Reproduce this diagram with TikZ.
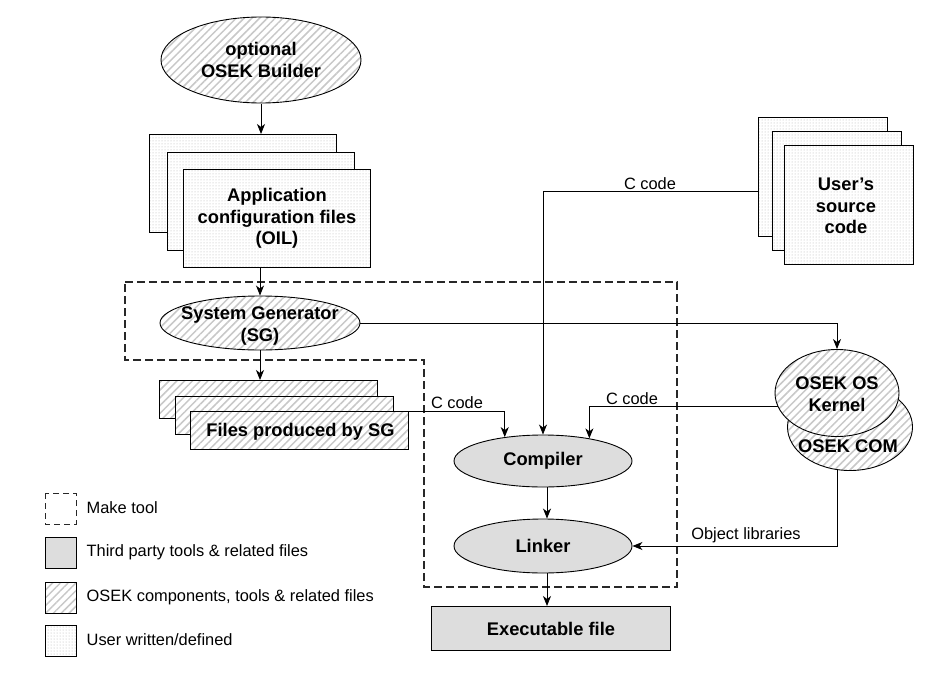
\documentclass[tikz,border=0pt]{standalone}
\usepackage{fontspec}
\setmainfont{Liberation Sans}
\usetikzlibrary{shapes.geometric,patterns,patterns.meta,arrows.meta,calc}
\definecolor{thirdgray}{RGB}{221,221,221}
\definecolor{hatchgray}{RGB}{200,200,200}
\definecolor{dotgray}{RGB}{180,180,180}
\definecolor{dashgray}{RGB}{40,40,40}
\tikzset{
  lw/.style={line width=0.9pt},
  arr/.style={lw,-{Stealth[length=10pt,width=8pt,inset=3pt]}},
  osek/.style={draw,lw,preaction={fill=white},pattern={Lines[angle=45,distance=5.5pt,line width=1.5pt]},pattern color=hatchgray},
  user/.style={draw,lw,preaction={fill=white},pattern=dots,pattern color=dotgray},
  third/.style={draw,lw,fill=thirdgray},
  ell/.style={ellipse,inner sep=0pt},
  box/.style={rectangle,inner sep=0pt,anchor=north west},
  btxt/.style={font=\fontsize{18.3}{21.7}\selectfont\bfseries,align=center,inner sep=0pt},
  ntxt/.style={font=\fontsize{16.4}{19}\selectfont,inner sep=1.5pt},
  maketool/.style={draw=dashgray,line width=1.1pt,dash pattern=on 8pt off 4pt}
}
\begin{document}
\begin{tikzpicture}[x=1pt,y=-1pt]
\useasboundingbox (0,0) rectangle (949,690);

% Make tool region
\draw[maketool] (125,282) -- (677,282) -- (677,587) -- (424,587) -- (424,360) -- (125,360) -- cycle;

% OSEK Builder
\node[ell,osek,minimum width=200pt,minimum height=86pt] (builder) at (261,60) {};
\node[btxt] (buildertxt) at (builder.center) {optional\\OSEK Builder};

% Application configuration files
\node[box,user,minimum width=187pt,minimum height=98pt] (app1) at (149,134) {};
\node[box,user,minimum width=187pt,minimum height=98pt] (app2) at (167,152) {};
\node[box,user,minimum width=187pt,minimum height=98pt] (app3) at (183,169) {};
\node[btxt] (apptxt) at (app3.center) {Application\\configuration files\\(OIL)};

% System Generator
\node[ell,osek,minimum width=200pt,minimum height=54pt] (sg) at (260,323) {};
\node[btxt] (sgtxt) at ($(sg.center)+(0,3)$) {System Generator\\(SG)};

% Files produced by SG
\node[box,osek,minimum width=218pt,minimum height=38pt] (files1) at (159,380) {};
\node[box,osek,minimum width=218pt,minimum height=38pt] (files2) at (175,396) {};
\node[box,osek,minimum width=218pt,minimum height=38pt] (files3) at (190,411) {};
\node[btxt] (filestxt) at ($(files3.center)+(1,1)$) {Files produced by SG};

% User's source code
\node[box,user,minimum width=129pt,minimum height=119pt] (user1) at (758,117) {};
\node[box,user,minimum width=129pt,minimum height=119pt] (user2) at (772,131) {};
\node[box,user,minimum width=129pt,minimum height=119pt] (user3) at (784,145) {};
\node[btxt] (usertxt) at ($(user3.center)+(-3,1)$) {User’s\\source\\code};

% OSEK COM and OS
\node[ell,osek,minimum width=125pt,minimum height=87pt] (com) at (850,427) {};
\node[ell,osek,minimum width=124pt,minimum height=87pt] (os) at (837,393) {};
\node[btxt] (ostxt) at ($(os.center)+(0,1)$) {OSEK OS\\Kernel};
\node[btxt,anchor=base] (comtxt) at (848,452) {OSEK COM};

% Compiler and Linker
\node[ell,third,minimum width=178pt,minimum height=52pt] (comp) at (543,461) {};
\node[btxt] (comptxt) at (comp.center) {Compiler};
\node[ell,third,minimum width=178pt,minimum height=54pt] (link) at (543,546) {};
\node[btxt] (linktxt) at (link.center) {Linker};

% Executable file
\node[box,third,minimum width=239pt,minimum height=44pt] (exe) at (431,606) {};
\node[btxt] (exetxt) at (exe.center) {Executable file};

% Connectors
\draw[arr] (builder.south) -- (builder.south |- app1.north);
\draw[arr] (sg.north |- app3.south) -- (sg.north);
\draw[arr] (sg.south) -- (sg.south |- files1.north);
\draw[arr] (files3.north east) -| (comp.148);
\node[ntxt,anchor=south] (cc1) at (457,410) {C code};
\draw[arr] ($(user1.north west)!0.62!(user1.south west)$) -| (comp.north);
\node[ntxt,anchor=south] (cc2) at (650,191) {C code};
\draw[arr] (os.193) -| (comp.26);
\node[ntxt,anchor=south] (cc3) at (632,406) {C code};
\draw[arr] (sg.east) -| (os.north);
\draw[arr] ($(comp.south)+(4,0)$) -- ($(link.north)+(4,0)$);
\draw[arr] ($(link.south)+(4,0)$) -- ($(link.south |- exe.north)+(4,0)$);
\draw[arr] (com.254) |- (link.east);
\node[ntxt,anchor=south] (objlib) at (746,545) {Object libraries};

% Legend
\draw[maketool,line width=1pt,dash pattern=on 6pt off 4pt] (45,493) rectangle (76,524);
\node[ntxt,anchor=west] (lg1) at (85,508) {Make tool};
\node[box,third,minimum width=31pt,minimum height=31pt] (lgb2) at (45,537) {};
\node[ntxt,anchor=west] (lg2) at (85,552) {Third party tools \& related files};
\node[box,osek,minimum width=31pt,minimum height=31pt] (lgb3) at (45,582) {};
\node[ntxt,anchor=west] (lg3) at (85,597) {OSEK components, tools \& related files};
\node[box,user,minimum width=31pt,minimum height=31pt] (lgb4) at (45,625) {};
\node[ntxt,anchor=west] (lg4) at (85,640) {User written/defined};
\end{tikzpicture}
\end{document}
